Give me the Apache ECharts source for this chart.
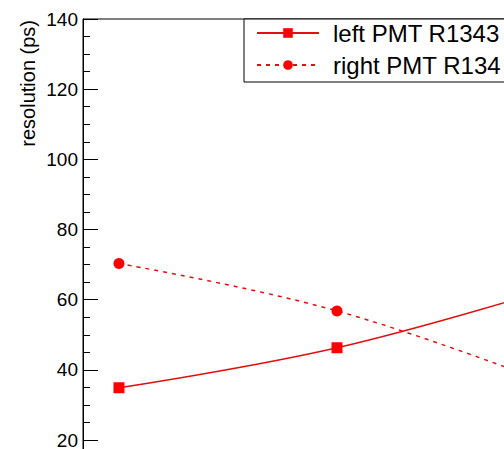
<!DOCTYPE html>
<html>
<head>
<meta charset="utf-8">
<script src="https://cdn.jsdelivr.net/npm/echarts@6/dist/echarts.min.js"></script>
<style>
html,body{margin:0;padding:0;background:#fff;}
#chart{width:504px;height:449px;}
</style>
</head>
<body>
<div id="chart"></div>
<script>
// Data
const xValues = [1, 2, 3];
const leftPMT = [34.9, 46.3, 63.5];
const rightPMT = [70.3, 56.8, 35.5];
const seriesNames = ['left PMT R1343', 'right PMT R134'];
const yTicks = [0, 20, 40, 60, 80, 100, 120, 140];
const yTitle = 'resolution (ps)';

const chart = echarts.init(document.getElementById('chart'), null, {renderer: 'svg'});
const FONT = 'Liberation Sans, Arial, Helvetica, sans-serif';
const RED = '#ff0000';
const LINE = '#e01010';

const option = {
  animation: false,
  backgroundColor: '#ffffff',
  grid: {
    left: 83, top: 19, width: 581, height: 491.2,
    show: true, borderColor: '#000', borderWidth: 1, backgroundColor: 'transparent',
    containLabel: false, outerBoundsMode: 'none'
  },
  xAxis: {
    type: 'value', min: 0.835, max: 3.5,
    axisLine: {show: true, lineStyle: {color: '#000'}},
    axisTick: {show: false}, axisLabel: {show: false}, splitLine: {show: false}
  },
  yAxis: {
    type: 'value', min: yTicks[0], max: yTicks[yTicks.length - 1], interval: 20,
    axisLine: {show: true, lineStyle: {color: '#000', width: 1}},
    axisTick: {show: true, inside: true, length: 15, lineStyle: {color: '#000'}},
    minorTick: {show: true, splitNumber: 4, length: 7, lineStyle: {color: '#000'}},
    axisLabel: {show: true, showMinLabel: false, margin: 5, fontSize: 19, lineHeight: 14, color: '#000', fontFamily: FONT},
    splitLine: {show: false}
  },
  legend: {
    orient: 'vertical', left: 244, top: 19,
    backgroundColor: '#fff', borderColor: '#000', borderWidth: 1, borderRadius: 0,
    padding: [2, 10, 5, 12], itemGap: 8, itemWidth: 62, itemHeight: 12,
    textStyle: {fontSize: 24, color: '#000', fontFamily: FONT, lineHeight: 24, padding: [0, 0, 0, 9]},
    data: seriesNames
  },
  graphic: [{
    type: 'text', x: 28, y: 20, rotation: Math.PI / 2,
    style: {text: yTitle, fontSize: 20, fontFamily: FONT, fill: '#000', align: 'right', verticalAlign: 'middle'}
  }],
  series: [
    {
      name: seriesNames[0], type: 'line', smooth: 0.4,
      data: xValues.map((x, i) => [x, leftPMT[i]]),
      symbol: 'rect', symbolSize: 11,
      itemStyle: {color: RED},
      lineStyle: {color: LINE, width: 1.5, type: 'solid'}
    },
    {
      name: seriesNames[1], type: 'line', smooth: 0.4,
      data: xValues.map((x, i) => [x, rightPMT[i]]),
      symbol: 'circle', symbolSize: 11,
      itemStyle: {color: RED},
      lineStyle: {color: LINE, width: 1.5, type: [4, 5]}
    }
  ]
};
chart.setOption(option);
</script>
</body>
</html>
